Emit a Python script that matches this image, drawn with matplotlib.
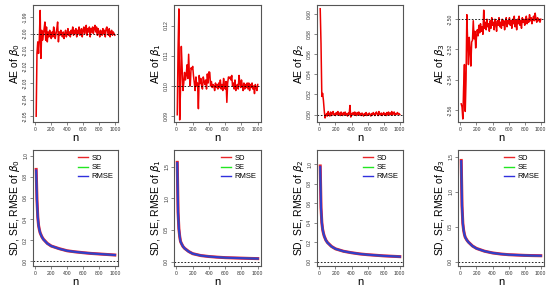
import numpy as np
import matplotlib
matplotlib.use("Agg")
import matplotlib.pyplot as plt
from matplotlib.lines import Line2D

plt.rcParams['font.family'] = ['Liberation Sans', 'DejaVu Sans']
plt.rcParams['mathtext.fontset'] = 'dejavusans'

# ---------------- data ----------------
n = np.arange(10, 1001, 10)

ae_b0 = [-2.050, -2.012, -2.005, -2.012, -2.003, -1.986, -2.015, -1.998, -2.004, -2.001,
         -1.997, -1.993, -2.004, -1.996, -2.005, -1.999, -2.002, -1.998, -2.001, -2.003,
         -1.999, -2.002, -1.996, -1.999, -2.003, -2.000, -1.997, -1.993, -2.005, -1.999,
         -2.001, -1.998, -2.000, -2.002, -1.999, -2.003, -2.000, -1.998, -2.002, -2.000,
         -1.997, -2.001, -1.999, -2.002, -1.998, -2.000, -1.996, -2.001, -1.998, -2.000,
         -1.997, -2.002, -1.998, -2.000, -1.996, -2.001, -1.999, -1.997, -2.002, -1.998,
         -1.996, -2.000, -1.997, -1.995, -2.001, -1.997, -1.999, -1.996, -2.002, -1.997,
         -1.999, -1.996, -2.000, -1.997, -1.995, -1.999, -1.996, -2.001, -1.997, -1.999,
         -2.002, -1.998, -1.999, -2.001, -1.997, -2.000, -1.998, -2.002, -1.997, -1.996,
         -1.999, -2.001, -1.997, -2.002, -1.999, -1.998, -2.001, -1.999, -2.000, -2.001]

ae_b1 = [0.0905, 0.1120, 0.1255, 0.0888, 0.0990, 0.1131, 0.1060, 0.0985, 0.1010, 0.1045,
         0.1020, 0.1035, 0.1070, 0.1025, 0.1105, 0.1030, 0.1000, 0.1060, 0.1055, 0.1065,
         0.1033, 0.1010, 0.0985, 0.1030, 0.1000, 0.1010, 0.0925, 0.1035, 0.1008, 0.1025,
         0.1000, 0.0990, 0.1030, 0.1015, 0.1005, 0.1020, 0.0990, 0.1040, 0.1010, 0.1047,
         0.1045, 0.1000, 0.1015, 0.0995, 0.1005, 0.1000, 0.0985, 0.1010, 0.0995, 0.1005,
         0.0990, 0.1010, 0.0995, 0.1020, 0.0990, 0.1005, 0.0985, 0.1025, 0.1000, 0.0990,
         0.1015, 0.0946, 0.1010, 0.1030, 0.1025, 0.1030, 0.1020, 0.1035, 0.1000, 0.1010,
         0.0990, 0.1020, 0.0985, 0.1000, 0.1005, 0.0990, 0.1035, 0.1010, 0.0995, 0.1020,
         0.1000, 0.0985, 0.1010, 0.0990, 0.1005, 0.0995, 0.1010, 0.0990, 0.1010, 0.0985,
         0.1005, 0.0995, 0.1010, 0.0990, 0.1000, 0.0975, 0.1005, 0.0995, 0.0985, 0.1005]

ae_b2 = [0.6050, 0.5700, 0.5180, 0.5210, 0.5140, 0.5040, 0.4966, 0.4990, 0.5010, 0.4985,
         0.5030, 0.5000, 0.4985, 0.5025, 0.4990, 0.5010, 0.5030, 0.4995, 0.5005, 0.4990,
         0.5020, 0.5000, 0.5030, 0.4995, 0.5015, 0.4990, 0.5025, 0.5005, 0.4990, 0.5020,
         0.5000, 0.5025, 0.4995, 0.5010, 0.4985, 0.5015, 0.5000, 0.5090, 0.4975, 0.5010,
         0.5000, 0.5020, 0.4995, 0.5025, 0.5005, 0.4990, 0.5020, 0.5000, 0.5025, 0.4995,
         0.5010, 0.4990, 0.5015, 0.5000, 0.4985, 0.5010, 0.4995, 0.5020, 0.4990, 0.5005,
         0.4995, 0.5015, 0.5000, 0.4985, 0.5010, 0.4995, 0.5020, 0.5005, 0.4990, 0.5015,
         0.5025, 0.5000, 0.4990, 0.5030, 0.5005, 0.4995, 0.5015, 0.4990, 0.5005, 0.5020,
         0.4995, 0.5010, 0.4990, 0.5020, 0.5000, 0.5025, 0.4995, 0.5015, 0.5000, 0.5030,
         0.4995, 0.5015, 0.5025, 0.4995, 0.5010, 0.5000, 0.5020, 0.5005, 0.5010, 0.5000]

ae_b3 = [-2.556, -2.558, -2.566, -2.545, -2.530, -2.561, -2.540, -2.497, -2.515, -2.530,
         -2.512, -2.520, -2.531, -2.515, -2.514, -2.501, -2.513, -2.508, -2.519, -2.512,
         -2.507, -2.511, -2.504, -2.509, -2.503, -2.508, -2.505, -2.510, -2.494, -2.506,
         -2.502, -2.507, -2.500, -2.505, -2.503, -2.508, -2.501, -2.506, -2.499, -2.504,
         -2.502, -2.507, -2.500, -2.503, -2.508, -2.501, -2.504, -2.499, -2.505, -2.502,
         -2.506, -2.500, -2.504, -2.501, -2.507, -2.502, -2.499, -2.505, -2.501, -2.503,
         -2.499, -2.504, -2.501, -2.506, -2.500, -2.503, -2.498, -2.505, -2.501, -2.507,
         -2.500, -2.503, -2.498, -2.504, -2.501, -2.506, -2.499, -2.502, -2.500, -2.504,
         -2.501, -2.498, -2.503, -2.500, -2.502, -2.497, -2.501, -2.499, -2.503, -2.500,
         -2.498, -2.501, -2.496, -2.500, -2.502, -2.499, -2.501, -2.500, -2.502, -2.500]

n_sd = [10, 20, 30, 40, 50, 60, 80, 100, 150, 200, 300, 400, 500, 600, 700, 800, 900, 1000]

sd_b0 = [0.87, 0.58, 0.42, 0.34, 0.30, 0.27, 0.235, 0.21, 0.17, 0.145, 0.12, 0.10, 0.09, 0.082, 0.075, 0.070, 0.065, 0.060]
se_b0 = [0.85, 0.57, 0.41, 0.34, 0.30, 0.27, 0.233, 0.208, 0.168, 0.144, 0.118, 0.10, 0.089, 0.081, 0.075, 0.069, 0.065, 0.060]
rmse_b0 = [0.86, 0.58, 0.42, 0.34, 0.30, 0.27, 0.234, 0.209, 0.169, 0.145, 0.119, 0.10, 0.090, 0.082, 0.075, 0.070, 0.065, 0.060]

sd_b1 = [1.57, 0.78, 0.52, 0.40, 0.32, 0.29, 0.24, 0.21, 0.16, 0.125, 0.095, 0.080, 0.070, 0.062, 0.058, 0.054, 0.050, 0.047]
se_b1 = [1.55, 0.77, 0.51, 0.39, 0.32, 0.29, 0.24, 0.208, 0.158, 0.124, 0.094, 0.080, 0.069, 0.062, 0.057, 0.053, 0.050, 0.047]
rmse_b1 = [1.56, 0.78, 0.52, 0.40, 0.32, 0.29, 0.24, 0.209, 0.159, 0.125, 0.095, 0.080, 0.070, 0.062, 0.058, 0.054, 0.050, 0.047]

sd_b2 = [0.98, 0.55, 0.40, 0.33, 0.29, 0.26, 0.22, 0.195, 0.155, 0.130, 0.105, 0.090, 0.078, 0.070, 0.064, 0.058, 0.054, 0.050]
se_b2 = [0.96, 0.54, 0.40, 0.33, 0.29, 0.26, 0.218, 0.193, 0.153, 0.129, 0.104, 0.089, 0.078, 0.070, 0.063, 0.058, 0.054, 0.050]
rmse_b2 = [0.97, 0.55, 0.40, 0.33, 0.29, 0.26, 0.219, 0.194, 0.154, 0.130, 0.105, 0.090, 0.078, 0.070, 0.064, 0.058, 0.054, 0.050]

sd_b3 = [1.45, 0.80, 0.55, 0.45, 0.39, 0.35, 0.31, 0.28, 0.225, 0.19, 0.15, 0.125, 0.110, 0.100, 0.095, 0.090, 0.087, 0.085]
se_b3 = [1.43, 0.79, 0.55, 0.44, 0.39, 0.35, 0.308, 0.278, 0.223, 0.188, 0.149, 0.124, 0.109, 0.100, 0.094, 0.089, 0.086, 0.084]
rmse_b3 = [1.44, 0.80, 0.55, 0.45, 0.39, 0.35, 0.309, 0.279, 0.224, 0.189, 0.150, 0.125, 0.110, 0.100, 0.095, 0.090, 0.087, 0.085]

ae_series = [ae_b0, ae_b1, ae_b2, ae_b3]
true_vals = [-2.00, 0.10, 0.50, -2.50]
ae_ylims = [(-2.0535, -1.9827), (0.0881, 0.1268), (0.4926, 0.6087), (-2.568, -2.4906)]
ae_yticks = [np.round(np.arange(-2.05, -1.985, 0.01), 2),
             [0.09, 0.10, 0.11, 0.12],
             [0.50, 0.52, 0.54, 0.56, 0.58, 0.60],
             [-2.56, -2.54, -2.52, -2.50]]

sd_series = [(sd_b0, se_b0, rmse_b0), (sd_b1, se_b1, rmse_b1),
             (sd_b2, se_b2, rmse_b2), (sd_b3, se_b3, rmse_b3)]
sd_ylims = [(-0.044, 1.054), (-0.07, 1.766), (-0.046, 1.144), (-0.062, 1.6)]
sd_yticks = [[0.0, 0.2, 0.4, 0.6, 0.8, 1.0], [0.0, 0.5, 1.0, 1.5],
             [0.0, 0.2, 0.4, 0.6, 0.8, 1.0], [0.0, 0.5, 1.0, 1.5]]

# ---------------- figure ----------------
fig = plt.figure(figsize=(5.5, 2.91), dpi=100)
lefts = [33, 174, 317, 458]
widths = [85, 87, 86, 86]
W, H = 550, 291
box_col = '#555555'
c_sd, c_se, c_rmse = '#e8262a', '#22e622', '#3030dd'


def style_axes(ax, yticks, fmt):
    ax.set_xlim(-30, 1040)
    ax.set_xticks([0, 200, 400, 600, 800, 1000])
    ax.set_yticks(yticks)
    ax.set_yticklabels([fmt.format(v) for v in yticks], rotation=90, va='center')
    ax.tick_params(labelsize=3.6, length=2, width=0.5, color=box_col, pad=1.5,
                   labelcolor='#333333')
    for s in ax.spines.values():
        s.set_color(box_col)
        s.set_linewidth(0.8)
    ax.set_xlabel('n', fontsize=8, labelpad=1)


for i in range(4):
    ax = fig.add_axes([lefts[i] / W, 1 - 122 / H, widths[i] / W, 117 / H])
    ax.plot(n, ae_series[i], color='#ee0000', lw=1.1)
    ax.axhline(true_vals[i], color='black', lw=0.6, ls=(0, (2, 2)))
    ax.set_ylim(*ae_ylims[i])
    style_axes(ax, ae_yticks[i], '{:.2f}')
    ax.set_ylabel(r'AE of $\beta_%d$' % i, fontsize=7.5, labelpad=1)

handles = [Line2D([], [], color=c_sd, lw=1.0), Line2D([], [], color=c_se, lw=1.0),
           Line2D([], [], color=c_rmse, lw=1.0)]
for i in range(4):
    ax = fig.add_axes([lefts[i] / W, 1 - 266 / H, widths[i] / W, 116 / H])
    sd, se, rmse = sd_series[i]
    ax.plot(n_sd, sd, color=c_sd, lw=2.2)
    ax.plot(n_sd, se, color=c_se, lw=1.0)
    ax.plot(n_sd, rmse, color=c_rmse, lw=1.6, alpha=0.9)
    ax.axhline(0, color='black', lw=0.6, ls=(0, (2, 2)))
    ax.set_ylim(*sd_ylims[i])
    style_axes(ax, sd_yticks[i], '{:.1f}')
    ax.set_ylabel(r'SD, SE, RMSE of $\beta_%d$' % i, fontsize=7.5, labelpad=1)
    ax.legend(handles, ['SD', 'SE', 'RMSE'], loc='upper right', frameon=False,
              fontsize=5.5, handlelength=1.3, labelspacing=0.25, borderaxespad=0.2,
              handletextpad=0.5)

fig.savefig('out.png', dpi=100)
